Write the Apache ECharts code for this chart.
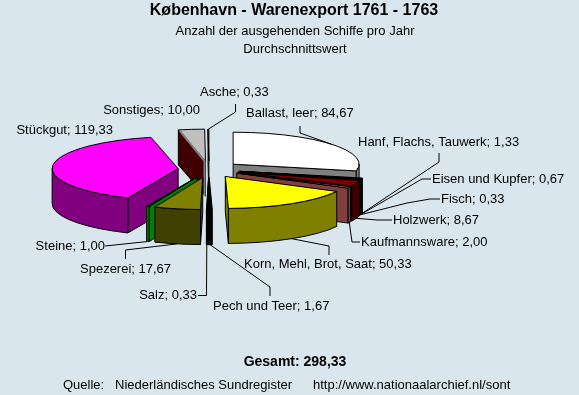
<!DOCTYPE html>
<html>
<head>
<meta charset="utf-8">
<style>
html, body { margin: 0; padding: 0; background: #dae6ed; }
#chart { width: 579px; height: 395px; }
</style>
<script src="https://cdn.jsdelivr.net/npm/echarts@6/dist/echarts.min.js"></script>
</head>
<body>
<div id="chart"></div>
<script>
var categories = ['Ballast, leer', 'Hanf, Flachs, Tauwerk', 'Eisen und Kupfer', 'Fisch', 'Holzwerk', 'Kaufmannsware',
    'Korn, Mehl, Brot, Saat', 'Pech und Teer', 'Salz', 'Spezerei', 'Steine', 'Stückgut', 'Sonstiges', 'Asche'];
var values = [84.67, 1.33, 0.67, 0.33, 8.67, 2.00, 50.33, 1.67, 0.33, 17.67, 1.00, 119.33, 10.00, 0.33];
var topColors = ['#ffffff', '#000080', '#008080', '#808080', '#800000', '#ff8080', '#ffff00',
    '#000000', '#000000', '#808000', '#008000', '#ff00ff', '#c0c0c0', '#c0c0c0'];
var sideColors = ['#808080', '#000040', '#004040', '#404040', '#400000', '#804040', '#808000',
    '#000000', '#000000', '#404000', '#008000', '#800080', '#400000', '#808080'];

// wo die texte stehen: x, y, ausrichtung, knickpunkte der linie (von text zum stueck)
var labelLayout = [
    [246, 113, 'left', [[300, 126], [300, 133]]],
    [358, 142, 'left', [[439, 153], [439, 162]]],
    [432, 179, 'left', [[431, 179], [422, 179]]],
    [441, 199, 'left', [[440, 199], [430, 199], [407, 203]]],
    [393, 220, 'left', [[392, 220], [377, 220]]],
    [361, 242, 'left', [[360, 242], [352, 242]]],
    [244, 264, 'left', [[329, 255], [329, 246]]],
    [213, 306, 'left', [[270, 296], [270, 287]]],
    [197, 295, 'right', [[198, 295.5], [206.5, 295.5]]],
    [80, 269, 'left', [[125.5, 259], [125.5, 250]]],
    [105, 246, 'right', [[105, 246]]],
    [113, 130, 'right', null],
    [200, 110, 'right', null],
    [200, 92, 'left', [[235.5, 104], [235.5, 112]]]
];

// 3d pie parameter
var centerX = 209, centerY = 169.4;
var radiusX = 126, radiusY = 32, depth = 35;
var explodeX = 31, explodeY = 8.3;

var total = 0;
values.forEach(function (v) { total += v; });

var slices = [];
var sum = 0;
values.forEach(function (v, i) {
    var start = sum / total * 360;
    sum += v;
    var end = sum / total * 360;
    slices.push({ index: i, start: start, end: end, mid: (start + end) / 2 });
});

// hinten zuerst, was naeher bei 180 grad liegt kommt spaeter
var drawOrder = slices.slice().sort(function (a, b) {
    return Math.abs(b.mid - 180) - Math.abs(a.mid - 180);
});

function tipOf(s) {
    var r = s.mid * Math.PI / 180;
    return [centerX + explodeX * Math.sin(r), centerY - explodeY * Math.cos(r)];
}

function rimPoint(s, deg, drop) {
    var tip = tipOf(s);
    var r = deg * Math.PI / 180;
    return [tip[0] + radiusX * Math.sin(r), tip[1] - radiusY * Math.cos(r) + drop];
}

function arcPoints(s, from, to, drop) {
    var pts = [];
    var n = Math.max(1, Math.ceil((to - from) / 8));
    for (var i = 0; i <= n; i++) {
        pts.push(rimPoint(s, from + (to - from) * i / n, drop));
    }
    return pts;
}

function polygon(points, fill) {
    return {
        type: 'polygon',
        shape: { points: points },
        style: { fill: fill, stroke: '#000', lineWidth: 1 }
    };
}

function renderSlice(params) {
    var s = drawOrder[params.dataIndex];
    var tip = tipOf(s);
    var side = sideColors[s.index];
    var children = [];

    // schnittflaeche die zum betrachter zeigt
    var faceDeg = s.mid < 180 ? s.end : s.start;
    var rim = rimPoint(s, faceDeg, 0);
    children.push(polygon([tip, rim, [rim[0], rim[1] + depth], [tip[0], tip[1] + depth]], side));

    // aussenwand, nur der vordere teil
    var from = Math.max(s.start, 90), to = Math.min(s.end, 270);
    if (to > from) {
        var up = arcPoints(s, from, to, 0);
        var down = arcPoints(s, from, to, depth).reverse();
        children.push(polygon(up.concat(down), side));
    }

    // deckel
    children.push(polygon([tip].concat(arcPoints(s, s.start, s.end, 0)), topColors[s.index]));

    // grauer streifen an der kante von Sonstiges
    if (categories[s.index] === 'Sonstiges') {
        children.push({
            type: 'polyline',
            shape: { points: [[rim[0] + 1.5, rim[1] + 1], [tip[0] - 1, tip[1]], [tip[0] - 1, tip[1] + depth]] },
            style: { fill: null, stroke: '#808080', lineWidth: 2 }
        });
    }
    return { type: 'group', children: children };
}

function renderLabel(params) {
    var i = params.dataIndex;
    var s = slices[i];
    var layout = labelLayout[i];
    var children = [{
        type: 'text',
        style: {
            text: categories[i] + '; ' + values[i].toFixed(2).replace('.', ','),
            x: layout[0], y: layout[1],
            align: layout[2], verticalAlign: 'middle',
            font: '13px "Liberation Sans"', fill: '#000'
        }
    }];
    if (layout[3]) {
        var front = s.mid > 90 && s.mid < 270;
        var anchor = rimPoint(s, s.mid, front ? depth : 0);
        children.push({
            type: 'polyline',
            shape: { points: layout[3].concat([anchor]) },
            style: { fill: null, stroke: '#000', lineWidth: 1 }
        });
    }
    return { type: 'group', children: children };
}

function titleStyle(size, weight) {
    return { fontFamily: 'Liberation Sans', fontSize: size, fontWeight: weight, color: '#000' };
}

var chart = echarts.init(document.getElementById('chart'));
var option = {
    backgroundColor: '#dae6ed',
    animation: false,
    title: [
        { text: 'København - Warenexport 1761 - 1763', left: 294, top: 3, padding: 0, textAlign: 'center', textStyle: titleStyle(16, 'bold') },
        { text: 'Anzahl der ausgehenden Schiffe pro Jahr', left: 295, top: 25, padding: 0, textAlign: 'center', textStyle: titleStyle(13, 'normal') },
        { text: 'Durchschnittswert', left: 295, top: 43, padding: 0, textAlign: 'center', textStyle: titleStyle(13, 'normal') },
        { text: 'Gesamt: 298,33', left: 295, top: 355, padding: 0, textAlign: 'center', textStyle: titleStyle(14, 'bold') },
        { text: 'Quelle:   Niederländisches Sundregister', left: 63, top: 379, padding: 0, textStyle: titleStyle(13, 'normal') },
        { text: 'http://www.nationaalarchief.nl/sont', left: 313, top: 379, padding: 0, textStyle: titleStyle(13, 'normal') }
    ],
    series: [
        { type: 'custom', coordinateSystem: 'none', silent: true, data: drawOrder.map(function (s) { return values[s.index]; }), renderItem: renderSlice },
        { type: 'custom', coordinateSystem: 'none', silent: true, data: values, renderItem: renderLabel }
    ]
};
chart.setOption(option);
window.addEventListener('resize', function () {
    chart.resize();
});
</script>
</body>
</html>
